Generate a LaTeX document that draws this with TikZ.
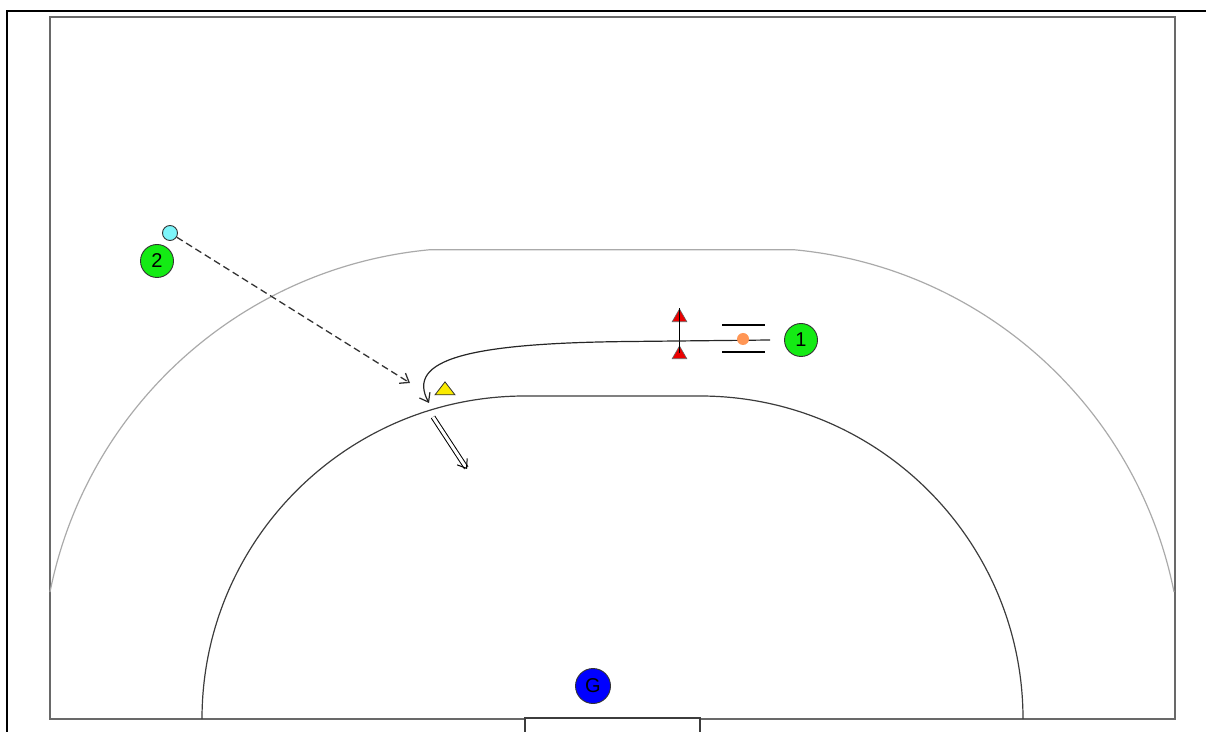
\documentclass[tikz,border=0pt]{standalone}
\usepackage{fontspec}
\setmainfont{Liberation Sans}
\usetikzlibrary{arrows.meta,shapes.geometric}
\definecolor{courtgray}{RGB}{105,105,105}
\definecolor{ninegray}{RGB}{170,170,170}
\definecolor{sixgray}{RGB}{60,60,60}
\definecolor{playergreen}{RGB}{20,235,20}
\definecolor{ballcyan}{RGB}{125,245,250}
\definecolor{ballorange}{RGB}{255,150,85}
\definecolor{conered}{RGB}{235,0,0}
\definecolor{defyellow}{RGB}{250,235,0}

\tikzset{
  player/.style={circle, draw=black!80, line width=0.9pt, minimum size=33pt,
    inner sep=0pt, font=\fontsize{20}{20}\selectfont},
  cone/.style={regular polygon, regular polygon sides=3, draw=black!60,
    fill=conered, line width=0.6pt, minimum size=17pt, inner sep=0pt},
  pass/.style={dashed, dash pattern=on 7pt off 4pt, black!80, line width=1.3pt},
  shot/.style={double, double distance=3pt, line width=1pt}
}

\begin{document}
\begin{tikzpicture}[x=1pt, y=1pt, >={Straight Barb[length=8pt, width=12pt]}, line width=1.2pt]
  \clip (0,0) rectangle (1206,731);
  % outer frame
  \draw[line width=1.5pt] (7,-5) -- (7,720) -- (1210,720);
  % court
  \draw[courtgray, line width=1.5pt] (50,12) rectangle (1175,714);
  % 9 m line
  \draw[ninegray] (50,139) arc[start angle=168.7, end angle=95.4, radius=428]
    -- (794.6,481.2) arc[start angle=84.6, end angle=11.3, radius=428];
  % 6 m line
  \draw[sixgray] (202,12) arc[start angle=180, end angle=90, radius=323]
    -- (700,335) arc[start angle=90, end angle=0, radius=323];
  % goal
  \draw[sixgray, fill=white, line width=1.5pt] (525,-4) rectangle (700,13);

  % cones with gate line
  \node[cone] (conetop) at (679.5,413.5) {};
  \node[cone] (conebot) at (679.5,376.5) {};
  \draw[black] (conetop.corner 1) -- (679.5,378);

  % run of 1 with the ball
  \coordinate (runstart) at (770,391);
  \coordinate (runend) at (429,328);
  \draw[->, black!85] (runstart) -- (630,389.5) .. controls (470,388) and (405,372) .. (runend);
  \draw[black] (722,406) -- (765,406);
  \draw[black] (722,379) -- (765,379);
  \node[circle, fill=ballorange, minimum size=12pt, inner sep=0pt] (ball1) at (743,392) {};

  % defender
  \node[regular polygon, regular polygon sides=3, draw=black!80, fill=defyellow,
    line width=0.8pt, minimum size=23pt, inner sep=0pt, yscale=0.75] (def) at (445,340.5) {};

  % pass from 2
  \node[circle, draw=black!80, fill=ballcyan, line width=0.9pt, minimum size=15pt,
    inner sep=0pt] (ball2) at (170,498) {};
  \coordinate (passend) at (410,348);
  \draw[pass, ->] (ball2) -- (passend);

  % shot
  \coordinate (shotstart) at (433,314);
  \coordinate (shotend) at (467,262);
  \draw[shot, ->] (shotstart) -- (shotend);

  % players
  \node[player, fill=playergreen] (p1) at (801,391) {1};
  \node[player, fill=playergreen] (p2) at (157,470) {2};
  \node[player, fill=blue, minimum size=35pt] (gk) at (593,45) {G};
\end{tikzpicture}
\end{document}
